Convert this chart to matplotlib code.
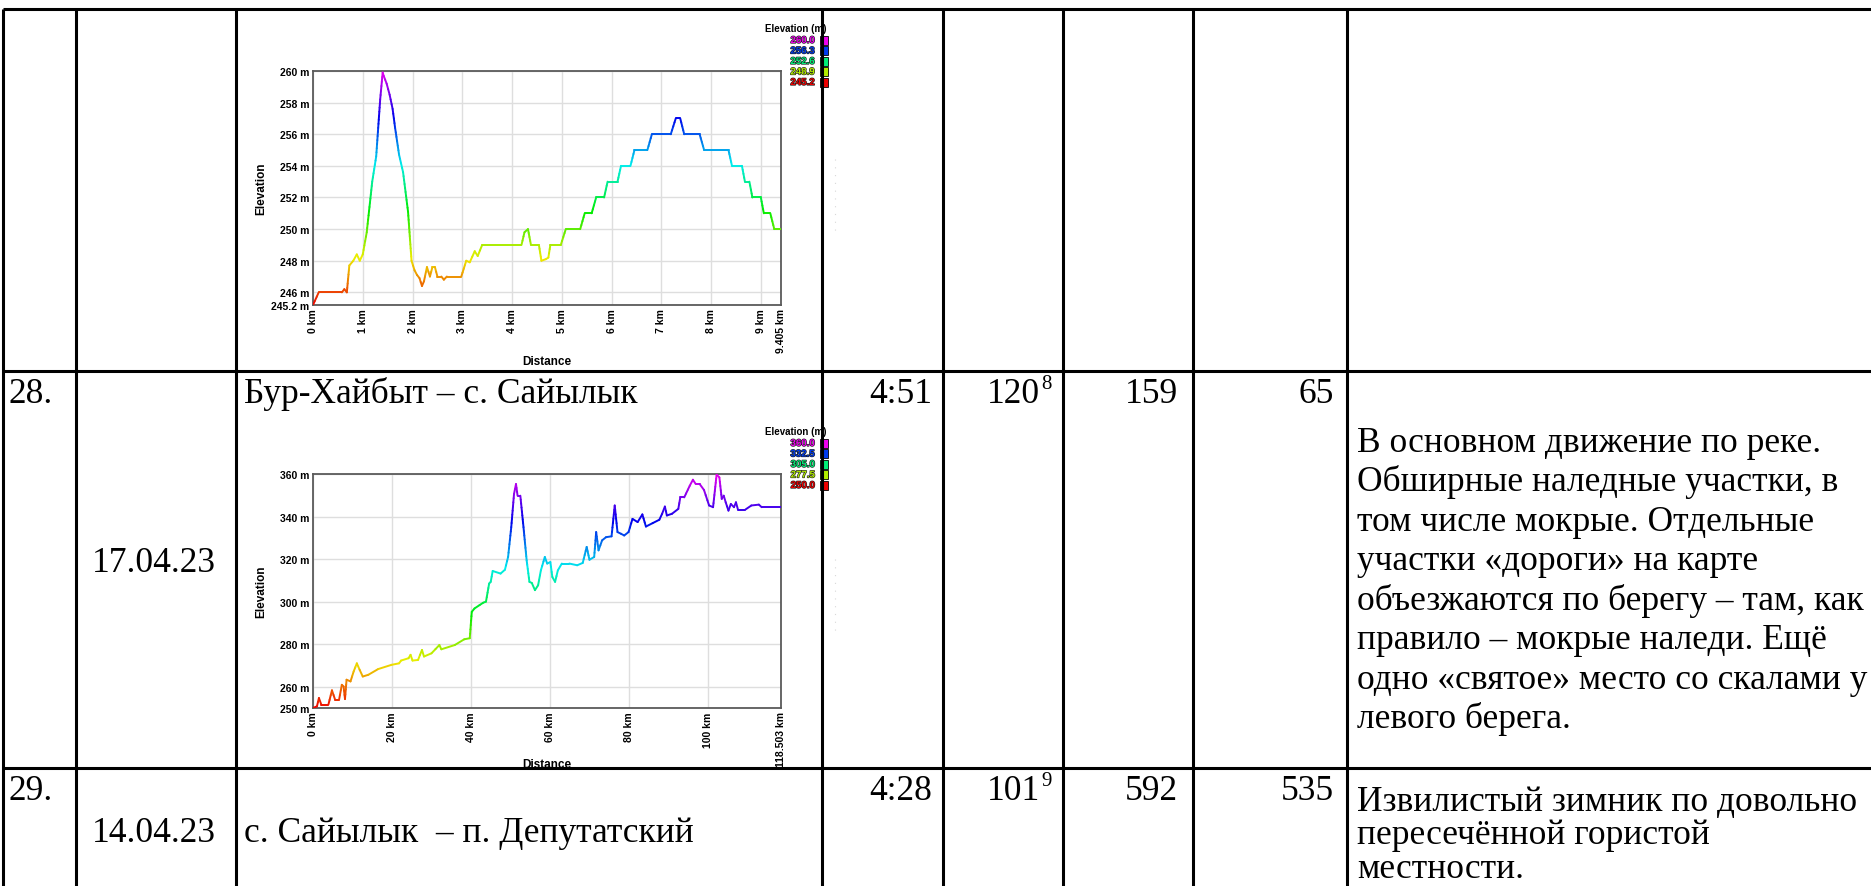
import numpy as np
import matplotlib
matplotlib.use('Agg')
from matplotlib import pyplot as plt
from matplotlib.collections import LineCollection
from matplotlib.colors import hsv_to_rgb
from matplotlib.patches import Rectangle
import matplotlib.patheffects as pe

# elevation profile in the upper row (km, m)
dist_a = [0, 0.115, 0.58, 0.63, 0.68, 0.73, 0.81, 0.88, 0.94, 1.0, 1.08, 1.19, 1.27,
          1.35, 1.40, 1.42, 1.48, 1.54, 1.60, 1.65, 1.73, 1.81, 1.91, 1.98, 2.04,
          2.09, 2.14, 2.19, 2.23, 2.29, 2.35, 2.40, 2.45, 2.50, 2.58, 2.63, 2.69,
          2.98, 3.08, 3.15, 3.25, 3.31, 3.40, 4.19, 4.25, 4.32, 4.38, 4.54, 4.59,
          4.68, 4.73, 4.77, 4.98, 5.08, 5.37, 5.46, 5.60, 5.69, 5.85, 5.92, 6.12,
          6.19, 6.38, 6.46, 6.72, 6.81, 7.19, 7.29, 7.38, 7.46, 7.77, 7.86, 8.35,
          8.42, 8.62, 8.68, 8.77, 8.83, 9.0, 9.06, 9.19, 9.27, 9.405]
elev_a = [245.2, 246, 246, 246.2, 246, 247.7, 248, 248.4, 248, 248.4, 249.8, 253, 254.6,
          258.2, 259.9, 259.7, 259.2, 258.5, 257.6, 256.4, 254.7, 253.6, 251.1, 248, 247.4,
          247.1, 246.9, 246.4, 246.7, 247.6, 247, 247.6, 247.6, 247, 247, 246.8, 247,
          247, 248, 247.9, 248.6, 248.3, 249, 249, 249.8, 250, 249, 249, 248,
          248.1, 248.2, 249, 249, 250, 250, 251, 251, 252, 252, 253, 253,
          254, 254, 255, 255, 256, 256, 257, 257, 256, 256, 255, 255,
          254, 254, 253, 253, 252, 252, 251, 251, 250, 250]
xticks_a = [0, 1, 2, 3, 4, 5, 6, 7, 8, 9, 9.405]
xlabels_a = ['0 km', '1 km', '2 km', '3 km', '4 km', '5 km', '6 km', '7 km', '8 km',
             '9 km', '9.405 km']
yticks_a = [245.2, 246, 248, 250, 252, 254, 256, 258, 260]
ylabels_a = ['245.2 m', '246 m', '248 m', '250 m', '252 m', '254 m', '256 m', '258 m', '260 m']

# elevation profile, Бур-Хайбыт – с. Сайылык (km, m)
dist_b = [0, 1, 1.5, 2.1, 3.9, 4.8, 5.6, 6.6, 7.3, 7.75, 8.1, 8.5, 9.5, 10.3, 11.1,
          11.8, 12.6, 14.0, 16.5, 19.9, 21.8, 22.3, 24.2, 24.7, 25.2, 26.6, 27.6,
          28.1, 30.0, 32.0, 32.5, 35.9, 38.3, 39.7, 40.2, 40.9, 42.2, 43.1, 43.8,
          44.6, 45.0, 45.5, 47.5, 48.6, 49.4, 50.2, 50.9, 51.4, 51.8, 52.5, 53.3,
          54.1, 54.8, 55.4, 56.2, 57.0, 57.7, 58.7, 59.3, 60.1, 60.6, 61.3, 62.0,
          63.0, 64.9, 66.9, 68.3, 69.3, 70.0, 71.2, 71.7, 72.3, 73.2, 74.2, 75.6,
          76.4, 77.1, 78.0, 78.8, 79.9, 80.9, 82.2, 83.4, 84.3, 86.0, 87.7, 88.4,
          89.1, 89.6, 90.9, 92.5, 93.0, 94.0, 95.4, 96.2, 96.9, 97.9, 99.0, 100.3,
          101.3, 102.2, 102.9, 103.5, 104.0, 104.5, 105.2, 105.8, 106.6, 107.1,
          107.6, 109.5, 111.0, 112.9, 113.6, 118.503]
elev_b = [250, 250.8, 254.7, 251.6, 251.6, 258.3, 253.9, 253.9, 260.9, 260.1, 254.2,
          263.3, 262.5, 267.2, 271, 268, 264.8, 265.6, 268.3, 270.3, 271, 272.3,
          273.4, 275, 272.3, 272.6, 277.3, 274.2, 275.7, 279.6, 277.6, 279.6, 282.3,
          282.8, 295.2, 296.8, 298.4, 299.5, 300, 308.5, 309.3, 314.4, 313.2, 315,
          321, 335, 350.6, 355.3, 349.8, 349.8, 335, 319.4, 309.3, 308.8, 305.4,
          307.7, 314.7, 321, 317.9, 318.6, 311.6, 309.3, 314.7, 317.9, 317.9, 317.1,
          318.2, 325.7, 319.7, 321, 332.7, 324.1, 328.8, 330.3, 330.7, 345.2, 332.7,
          331.9, 331.1, 332.7, 338.9, 337.4, 341, 335.3, 336.9, 338.5, 341.3, 344.7,
          340.5, 341.3, 343.6, 349, 349, 354.5, 357.3, 355.3, 355.3, 352.5, 345.2,
          344.4, 359.7, 358.4, 348.3, 349.8, 346.7, 342.8, 345.9, 344.4, 346.7,
          343.3, 343.3, 345.2, 345.6, 344.4, 344.4]
xticks_b = [0, 20, 40, 60, 80, 100, 118.503]
xlabels_b = ['0 km', '20 km', '40 km', '60 km', '80 km', '100 km', '118.503 km']
yticks_b = [250, 260, 280, 300, 320, 340, 360]
ylabels_b = ['250 m', '260 m', '280 m', '300 m', '320 m', '340 m', '360 m']

# table text
row28 = ['28.', '17.04.23', 'Бур-Хайбыт – с. Сайылык', '4:51', '120', '8', '159', '65']
row29 = ['29.', '14.04.23', 'с. Сайылык  – п. Депутатский', '4:28', '101', '9', '592', '535']
note28 = ['В основном движение по реке.',
          'Обширные наледные участки, в',
          'том числе мокрые. Отдельные',
          'участки «дороги» на карте',
          'объезжаются по берегу – там, как',
          'правило – мокрые наледи. Ещё',
          'одно «святое» место со скалами у',
          'левого берега.']
note29 = ['Извилистый зимник по довольно',
          'пересечённой гористой',
          'местности.']

W, H = 1871, 887
SERIF = 'Liberation Serif'
SANS = 'Liberation Sans'
TS = 25.5

fig = plt.figure(figsize=(W / 100, H / 100), dpi=100)
base = fig.add_axes([0, 0, 1, 1])
base.set_xlim(0, W)
base.set_ylim(H, 0)
base.axis('off')

# table grid
for x in [3, 76, 236, 822, 943, 1063, 1193, 1347]:
    base.plot([x, x], [10, H], color='black', lw=2.2, zorder=3, solid_capstyle='butt')
for y in [10, 372, 769]:
    base.plot([3, W], [y, y], color='black', lw=2.2, zorder=3, solid_capstyle='butt')

# faint scan dots next to the charts
for yy in [(160, 235), (560, 635)]:
    base.plot([835, 835], yy, color='#d8d8d8', lw=0.8, ls=(0, (1, 6)), zorder=1)


def colour(t):
    t = np.clip(np.asarray(t, dtype=float), 0, 1)
    return hsv_to_rgb(np.column_stack([t * 5 / 6, np.ones_like(t), np.full_like(t, 0.93)]))


def profile(box, dist, elev, xt, xl, yt, yl):
    x0, y0, x1, y1 = box
    ax = fig.add_axes([x0 / W, 1 - y1 / H, (x1 - x0) / W, (y1 - y0) / H])
    d = np.asarray(dist, dtype=float)
    e = np.asarray(elev, dtype=float)
    lo, hi = yt[0], yt[-1]
    # split each straight segment into short pieces so the colour follows the height
    segs, tt = [], []
    for i in range(len(d) - 1):
        n = max(1, int(abs(e[i + 1] - e[i]) / (hi - lo) * 60))
        fx = np.linspace(d[i], d[i + 1], n + 1)
        fy = np.linspace(e[i], e[i + 1], n + 1)
        for k in range(n):
            segs.append([(fx[k], fy[k]), (fx[k + 1], fy[k + 1])])
            tt.append(((fy[k] + fy[k + 1]) / 2 - lo) / (hi - lo))
    ax.add_collection(LineCollection(segs, colors=colour(tt), linewidths=1.4,
                                     capstyle='round', joinstyle='round', zorder=3))
    ax.set_xlim(d[0], d[-1])
    ax.set_ylim(lo, hi)
    ax.set_xticks(xt)
    ax.set_xticklabels(xl, rotation=90, fontsize=7.5, fontweight='bold', family=SANS)
    ax.set_yticks(yt)
    ax.set_yticklabels(yl, fontsize=7.5, fontweight='bold', family=SANS)
    ax.tick_params(length=0, pad=2.5)
    ax.grid(color='#dedede', lw=1)
    ax.set_axisbelow(True)
    for s in ax.spines.values():
        s.set_color('#5a5a5a')
        s.set_linewidth(1.3)
    ax.set_xlabel('Distance', fontsize=8.5, fontweight='bold', family=SANS)
    ax.xaxis.set_label_coords(0.5, -56 / (y1 - y0))
    ax.xaxis.label.set_va('center')
    ax.set_ylabel('Elevation', fontsize=8.5, fontweight='bold', family=SANS)
    ax.yaxis.set_label_coords(-52 / (x1 - x0), 0.5)
    ax.yaxis.label.set_va('center')

    # colour legend above the right corner
    ty = y0 - 43
    base.text(827, ty, 'Elevation (m)', ha='right', va='center', fontsize=7,
              fontweight='bold', family=SANS, zorder=4)
    vals = np.linspace(hi, lo, 5)
    for j, v in enumerate(vals):
        cy = ty + 12 + j * 10.5
        c = colour([(v - lo) / (hi - lo)])[0]
        base.add_patch(Rectangle((820, cy - 4.5), 8, 9, facecolor=c, edgecolor='black',
                                 lw=0.6, zorder=2))
        base.text(815, cy, f'{v:.1f}', ha='right', va='center', fontsize=7,
                  fontweight='bold', family=SANS, color=c, zorder=4,
                  path_effects=[pe.withStroke(linewidth=0.9, foreground='#202020')])
    return ax


profile((313, 72, 781, 306), dist_a, elev_a, xticks_a, xlabels_a, yticks_a, ylabels_a)
profile((313, 475, 781, 709), dist_b, elev_b, xticks_b, xlabels_b, yticks_b, ylabels_b)


def row(cells, y_top, y_mid, route_y):
    num, date, route, time, km, sup, a, b = cells
    kw = dict(fontsize=TS, family=SERIF, va='baseline', zorder=4)
    base.text(8, y_top, num, ha='left', **kw)
    base.text(154, y_mid, date, ha='center', **kw)
    base.text(244, route_y, route, ha='left', **kw)
    base.text(932, y_top, time, ha='right', **kw)
    base.text(1040, y_top, km, ha='right', **kw)
    base.text(1041, y_top - 14, sup, ha='left', fontsize=15, family=SERIF,
              va='baseline', zorder=4)
    base.text(1178, y_top, a, ha='right', **kw)
    base.text(1334, y_top, b, ha='right', **kw)


row(row28, 403, 572, 403)
row(row29, 800, 842, 842)

for i, line in enumerate(note28):
    base.text(1357, 452 + i * 39.5, line, ha='left', va='baseline', fontsize=TS,
              family=SERIF, zorder=4)
for i, line in enumerate(note29):
    base.text(1357, 811 + i * 33.5, line, ha='left', va='baseline', fontsize=TS,
              family=SERIF, zorder=4)

fig.savefig('out.png', dpi=100)
